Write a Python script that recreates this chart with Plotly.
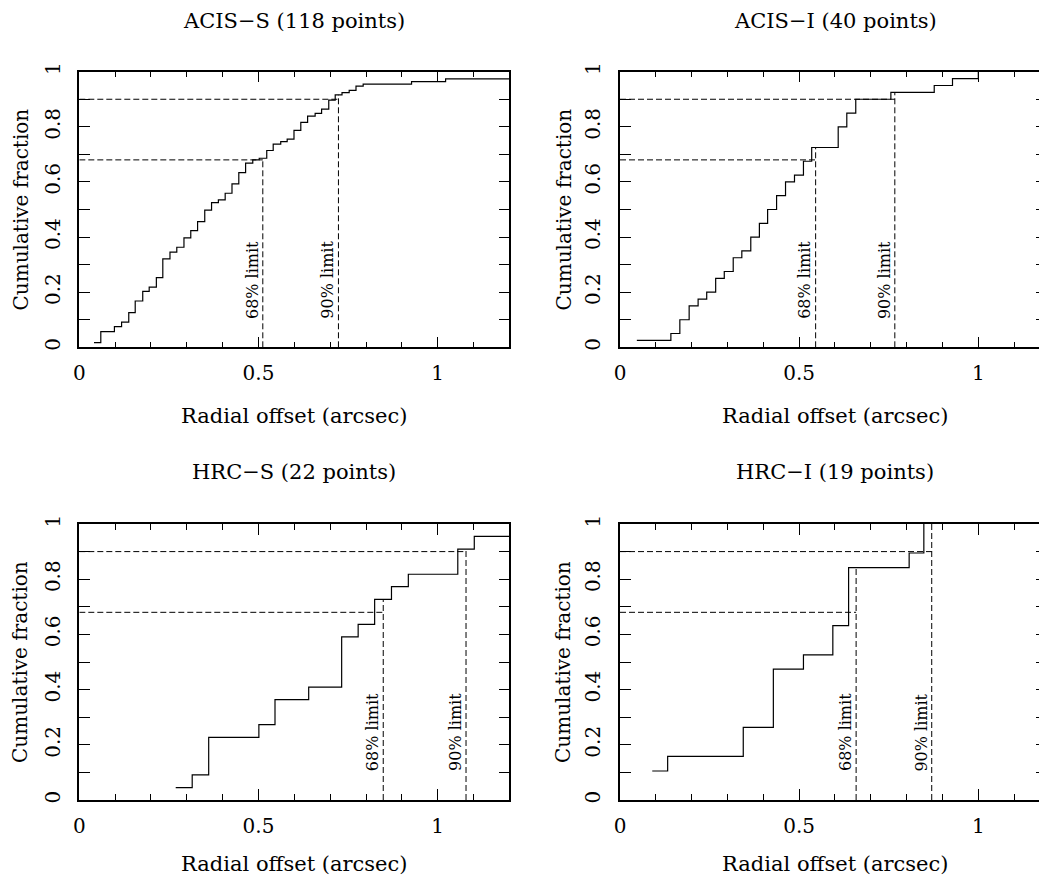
import numpy as np
import plotly.graph_objects as go

# ---------------- data ----------------
panel_titles = ["ACIS\u2212S (118 points)", "ACIS\u2212I (40 points)",
                "HRC\u2212S (22 points)", "HRC\u2212I (19 points)"]

acis_s_x = [0.041, 0.060, 0.098, 0.118, 0.138, 0.156, 0.177, 0.195, 0.215, 0.233,
            0.253, 0.272, 0.292, 0.311, 0.330, 0.350, 0.369, 0.388, 0.407, 0.426,
            0.445, 0.464, 0.484, 0.502, 0.523, 0.541, 0.562, 0.580, 0.599, 0.618,
            0.637, 0.658, 0.676, 0.696, 0.714, 0.733, 0.753, 0.772, 0.792, 0.927,
            1.022, 1.2]
acis_s_y = [0.017, 0.057, 0.075, 0.091, 0.126, 0.168, 0.203, 0.218, 0.253, 0.321,
            0.345, 0.363, 0.397, 0.423, 0.456, 0.498, 0.525, 0.535, 0.559, 0.593,
            0.634, 0.668, 0.680, 0.686, 0.714, 0.737, 0.746, 0.755, 0.787, 0.816,
            0.839, 0.849, 0.864, 0.897, 0.916, 0.924, 0.932, 0.948, 0.955, 0.964,
            0.974, 0.974]

acis_i_x = [0.047, 0.142, 0.167, 0.193, 0.218, 0.242, 0.267, 0.291, 0.316, 0.340,
            0.365, 0.389, 0.412, 0.437, 0.462, 0.487, 0.512, 0.535, 0.609, 0.633,
            0.658, 0.756, 0.877, 0.928, 1.0]
acis_i_y = [0.025, 0.05, 0.10, 0.15, 0.175, 0.20, 0.25, 0.275, 0.325, 0.35,
            0.40, 0.45, 0.50, 0.55, 0.60, 0.625, 0.675, 0.725, 0.80, 0.85,
            0.90, 0.925, 0.95, 0.975, 1.0]

hrc_s_x = [0.269, 0.315, 0.361, 0.501, 0.546, 0.640, 0.732, 0.778, 0.824, 0.871,
           0.918, 1.056, 1.102, 1.2]
hrc_s_y = [0.045, 0.091, 0.227, 0.273, 0.364, 0.409, 0.591, 0.636, 0.727, 0.773,
           0.818, 0.909, 0.955, 0.955]

hrc_i_x = [0.090, 0.133, 0.344, 0.428, 0.512, 0.594, 0.638, 0.807, 0.848]
hrc_i_y = [0.105, 0.158, 0.263, 0.474, 0.526, 0.632, 0.842, 0.895, 1.0]

# 68% and 90% radial limits per instrument
limit_68 = [0.512, 0.546, 0.848, 0.659]
limit_90 = [0.723, 0.767, 1.079, 0.870]
limit_levels = [0.68, 0.90]
limit_labels = ["68% limit", "90% limit"]

series_x = [acis_s_x, acis_i_x, hrc_s_x, hrc_i_x]
series_y = [acis_s_y, acis_i_y, hrc_s_y, hrc_i_y]

x_title = "Radial offset (arcsec)"
y_title = "Cumulative fraction"

# ---------------- layout geometry (page pixels) ----------------
W, H = 1047, 882
OFF = 8  # default body margin of the HTML page
FW, FH = W - OFF, H - OFF
FONT = "DejaVu Serif"


def px_x(p):
    return (p - OFF) / FW


def px_y(p):
    return 1 - (p - OFF) / FH


x_px = [[79.3, 509.4], [620.0, 1047.0]]
y_px = [[71.7, 347.3], [524.0, 800.0]]
x_domains = [[px_x(a), min(px_x(b), 1.0)] for a, b in x_px]
y_domains = [[px_y(b), px_y(a)] for a, b in y_px]
x_ranges = [[0, 1.2], [0, (W - 620.0) / 358.3]]
panel_center_px = [(79.3 + 509.4) / 2, (620.0 + 1050.0) / 2]
title_px = [21.0, 472.0]
xtitle_px = [416.0, 864.0]
ytitle_px = [20.0, 563.0]

fig = go.Figure()
annotations = []


def cdf_at(xs, ys, x):
    i = np.searchsorted(np.asarray(xs), x, side="right") - 1
    return ys[max(i, 0)]


for k in range(4):
    row, col = divmod(k, 2)
    ax = "" if k == 0 else str(k + 1)
    xref, yref = "x" + ax, "y" + ax
    xs, ys = series_x[k], series_y[k]

    fig.add_trace(go.Scatter(x=xs, y=ys, mode="lines", line=dict(shape="hv", color="black", width=1.2),
                             xaxis=xref, yaxis=yref, showlegend=False, hoverinfo="skip"))

    for lim, lev, lab in zip([limit_68[k], limit_90[k]], limit_levels, limit_labels):
        top = cdf_at(xs, ys, lim)
        fig.add_trace(go.Scatter(x=[0, lim], y=[lev, lev], mode="lines",
                                 line=dict(color="black", width=1, dash="6px,3px"),
                                 xaxis=xref, yaxis=yref, showlegend=False, hoverinfo="skip"))
        fig.add_trace(go.Scatter(x=[lim, lim], y=[0, top], mode="lines",
                                 line=dict(color="black", width=1, dash="6px,3px"),
                                 xaxis=xref, yaxis=yref, showlegend=False, hoverinfo="skip"))
        annotations.append(dict(x=lim, y=0.1, xref=xref, yref=yref, text=lab, showarrow=False,
                                textangle=-90, xanchor="right", yanchor="bottom", xshift=0,
                                borderpad=0, font=dict(family=FONT, size=16, color="black")))

    # panel title
    annotations.append(dict(x=px_x(panel_center_px[col]), y=px_y(title_px[row]), xref="paper", yref="paper",
                            text=panel_titles[k], showarrow=False, xanchor="center", yanchor="middle",
                            font=dict(family=FONT, size=21, color="black")))
    # x axis title
    annotations.append(dict(x=px_x(panel_center_px[col]), y=px_y(xtitle_px[row]), xref="paper", yref="paper",
                            text=x_title, showarrow=False, xanchor="center", yanchor="middle",
                            font=dict(family=FONT, size=21, color="black")))
    # y axis title
    annotations.append(dict(x=px_x(ytitle_px[col]), y=px_y((y_px[row][0] + y_px[row][1]) / 2),
                            xref="paper", yref="paper", text=y_title, showarrow=False, textangle=-90,
                            xanchor="center", yanchor="middle",
                            font=dict(family=FONT, size=20, color="black")))

    common = dict(showline=True, linecolor="black", linewidth=1.5, mirror="ticks",
                  ticks="inside", tickcolor="black", tickwidth=1, showgrid=False, zeroline=False,
                  tickfont=dict(family=FONT, size=20, color="black"), fixedrange=True,
                  automargin=False)
    fig.layout["xaxis" + ax] = dict(
        domain=x_domains[col], range=x_ranges[col], anchor=yref, dtick=0.5, tick0=0, ticklen=11,
        minor=dict(dtick=0.1, tick0=0, ticklen=6, ticks="inside", tickcolor="black", tickwidth=1, showgrid=False),
        ticklabelstandoff=7, **common)
    fig.layout["yaxis" + ax] = dict(
        domain=y_domains[row], range=[0, 1], anchor=xref, dtick=0.2, tick0=0, ticklen=11, tickangle=-90,
        minor=dict(dtick=0.1, tick0=0, ticklen=11, ticks="inside", tickcolor="black", tickwidth=1, showgrid=False),
        ticklabelstandoff=10, **common)

fig.update_layout(width=FW, height=FH, margin=dict(l=0, r=0, t=0, b=0, autoexpand=False),
                  paper_bgcolor="white", plot_bgcolor="white",
                  annotations=annotations, font=dict(family=FONT, color="black"))

fig.write_html("out.html")
